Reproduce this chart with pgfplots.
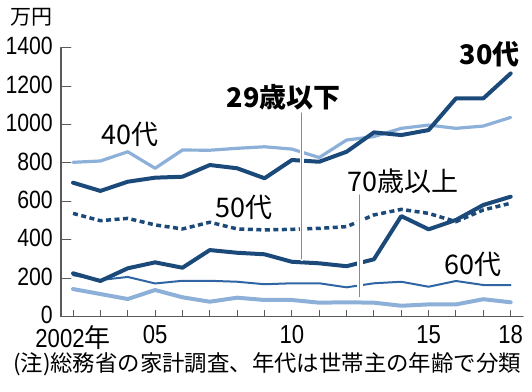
\documentclass[border=0pt]{standalone}
\usepackage{fontspec}
\usepackage{pgfplots}
\pgfplotsset{compat=1.18}
\setmainfont{Liberation Sans}
\newfontfamily\numfont[FakeStretch=0.85]{Liberation Sans}
\newfontfamily\jp{Noto Sans CJK JP}
\definecolor{dark}{HTML}{1B4A7A}
\definecolor{light}{HTML}{8DB0D9}
\definecolor{mid}{HTML}{2F65A3}
\definecolor{axisgray}{HTML}{5A5A5A}
\definecolor{leader}{HTML}{8A8A8A}
\begin{document}
\begin{tikzpicture}[x=1pt,y=1pt]
\path[use as bounding box] (0,0) rectangle (532,391);
\begin{axis}[
  at={(61pt,74.5pt)}, anchor=south west,
  scale only axis, width=462pt, height=268.8pt,
  xmin=2001.56, xmax=2018.45, ymin=0, ymax=1400,
  axis x line*=bottom, axis y line*=left,
  axis line style={axisgray, line width=1.2pt, -},
  clip=false,
  xtick={2002,...,2018},
  xticklabels={2002{\jp 年},,,05,,,,,10,,,,,15,,,18},
  ytick={0,200,...,1400},
  tick align=inside,
  major tick length=10pt,
  xtick style={axisgray, line width=1pt, /pgfplots/major tick length=6pt},
  ytick style={axisgray, line width=1pt},
  /pgf/number format/assume math mode=true,
  /pgf/number format/1000 sep={},
  xticklabel style={font=\numfont\fontsize{26}{26}\selectfont, yshift=-9pt, inner sep=0pt},
  yticklabel style={font=\numfont\fontsize{25}{25}\selectfont, yshift=1.5pt, xshift=-8pt, inner sep=0pt},
  line join=round, line cap=round,
]
% 40s
\addplot[light, line width=3.2pt] coordinates {
(2002,803)(2003,810)(2004,858)(2005,772)(2006,867)(2007,866)(2008,876)(2009,884)
(2010,872)(2011,828)(2012,919)(2013,937)(2014,980)(2015,997)(2016,980)(2017,992)(2018,1037)};
% 30s
\addplot[dark, line width=4pt] coordinates {
(2002,697)(2003,654)(2004,702)(2005,723)(2006,728)(2007,789)(2008,772)(2009,720)
(2010,815)(2011,806)(2012,858)(2013,959)(2014,945)(2015,971)(2016,1136)(2017,1136)(2018,1266)};
% 50s
\addplot[dark, line width=3.5pt, line cap=butt, dash pattern=on 5pt off 3.5pt] coordinates {
(2002,537)(2003,499)(2004,511)(2005,477)(2006,456)(2007,491)(2008,456)(2009,451)
(2010,454)(2011,459)(2012,468)(2013,529)(2014,558)(2015,537)(2016,494)(2017,555)(2018,590)};
% 70+
\addplot[light, line width=4pt] coordinates {
(2002,143)(2003,117)(2004,91)(2005,138)(2006,100)(2007,77)(2008,98)(2009,86)
(2010,86)(2011,72)(2012,74)(2013,72)(2014,56)(2015,63)(2016,63)(2017,90)(2018,74)};
% 60s
\addplot[mid, line width=2pt] coordinates {
(2002,215)(2003,190)(2004,206)(2005,172)(2006,186)(2007,186)(2008,181)(2009,168)
(2010,173)(2011,173)(2012,152)(2013,173)(2014,181)(2015,155)(2016,185)(2017,164)(2018,164)};
% 29 and under
\addplot[dark, line width=4pt] coordinates {
(2002,225)(2003,185)(2004,251)(2005,282)(2006,254)(2007,346)(2008,332)(2009,324)
(2010,285)(2011,277)(2012,262)(2013,298)(2014,523)(2015,454)(2016,503)(2017,581)(2018,624)};
% leader lines
\draw[white, line width=4pt] (axis cs:2010.36,300) -- (axis cs:2010.36,1060);
\draw[leader, line width=1pt] (axis cs:2010.36,300) -- (axis cs:2010.36,1060);
\draw[white, line width=6pt] (axis cs:2012.49,103) -- (axis cs:2012.49,633);
\draw[leader, line width=1pt] (axis cs:2012.49,103) -- (axis cs:2012.49,633);
% labels
\node[font=\jp\fontsize{27}{27}\selectfont] at (axis cs:2004.08,950) {40代};
\node[font=\jp\bfseries\fontsize{27}{27}\selectfont] at (axis cs:2009.71,1143) {29歳以下};
\node[font=\jp\bfseries\fontsize{27}{27}\selectfont] at (axis cs:2017.24,1367) {30代};
\node[font=\jp\fontsize{27}{27}\selectfont] at (axis cs:2008.25,570) {50代};
\node[font=\jp\fontsize{27}{27}\selectfont] at (axis cs:2014.06,706) {70歳以上};
\node[font=\jp\fontsize{27}{27}\selectfont] at (axis cs:2016.62,273) {60代};
\end{axis}
\node[font=\jp\fontsize{21}{21}\selectfont] at (31,374) {万円};
\node[font=\jp\fontsize{22.4}{22.4}\selectfont, inner sep=0pt] at (267,27) {(注)総務省の家計調査、年代は世帯主の年齢で分類};
\end{tikzpicture}
\end{document}
